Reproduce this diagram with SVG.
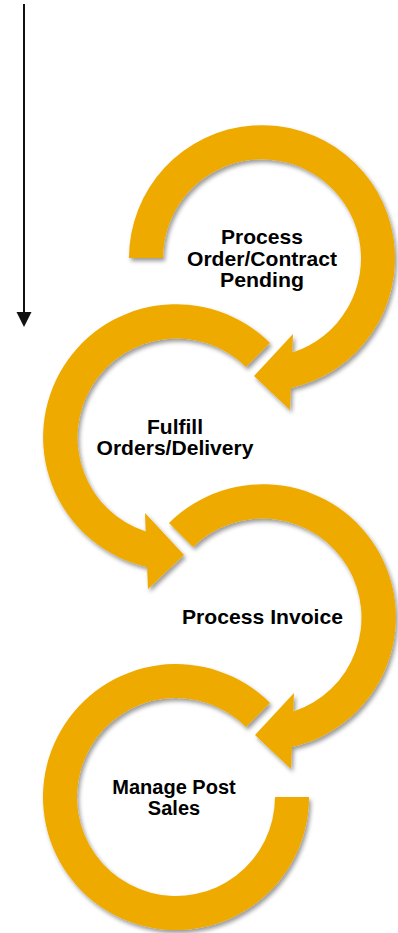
<svg xmlns="http://www.w3.org/2000/svg" width="398" height="933" viewBox="0 0 398 933">
  <style>
    .arc { fill: #EFAA00; filter: url(#shadow); }
    .lbl { font-family: "Liberation Sans", Arial, sans-serif; font-weight: bold; font-size: 21px; fill: #000; text-anchor: middle; }
    .lbl20 { font-size: 20px; }
    .conn { stroke: #111; stroke-width: 2; fill: none; }
  </style>
  <defs>
    <filter id="shadow" x="-20%" y="-20%" width="140%" height="140%">
      <feDropShadow dx="2" dy="3" stdDeviation="2" flood-color="#000" flood-opacity="0.4"/>
    </filter>
  </defs>

  <g id="connectors">
    <line class="conn" x1="24" y1="4" x2="24" y2="313"/>
    <polygon points="16.5,312 31.5,312 24,327" fill="#111"/>
  </g>

  <g id="node-process-order">
    <path class="arc" d="M129,258 A133,133 0 1 1 290.9,388 L290,410 L254,376 L293,334 L292.3,352.6 A99,99 0 1 0 163,258 Z"/>
    <text class="lbl" x="262" y="244" textLength="82" lengthAdjust="spacingAndGlyphs">Process</text>
    <text class="lbl" x="262" y="265.5" textLength="150" lengthAdjust="spacingAndGlyphs">Order/Contract</text>
    <text class="lbl" x="262" y="287" textLength="84" lengthAdjust="spacingAndGlyphs">Pending</text>
  </g>

  <g id="node-fulfill">
    <path class="arc" d="M270,343 A133,133 0 1 0 147.1,567 L148,589 L184,555 L145,513 L145.7,531.6 A99,99 0 1 1 246,367 Z"/>
    <text class="lbl" x="175" y="434" textLength="56" lengthAdjust="spacingAndGlyphs">Fulfill</text>
    <text class="lbl" x="175" y="455" textLength="157" lengthAdjust="spacingAndGlyphs">Orders/Delivery</text>
  </g>

  <g id="node-process-invoice">
    <path class="arc" d="M169,523 A133,133 0 1 1 291.9,747 L291,769 L255,735 L294,693 L293.3,711.6 A99,99 0 1 0 193,547 Z"/>
    <text class="lbl" x="262.5" y="624" textLength="161" lengthAdjust="spacingAndGlyphs">Process Invoice</text>
  </g>

  <g id="node-manage-post-sales">
    <path class="arc" d="M270,703 A133,133 0 1 0 309,797 L275,797 A99,99 0 1 1 246,727 Z"/>
    <text class="lbl lbl20" x="174" y="794">Manage Post</text>
    <text class="lbl lbl20" x="174" y="815">Sales</text>
  </g>
</svg>
